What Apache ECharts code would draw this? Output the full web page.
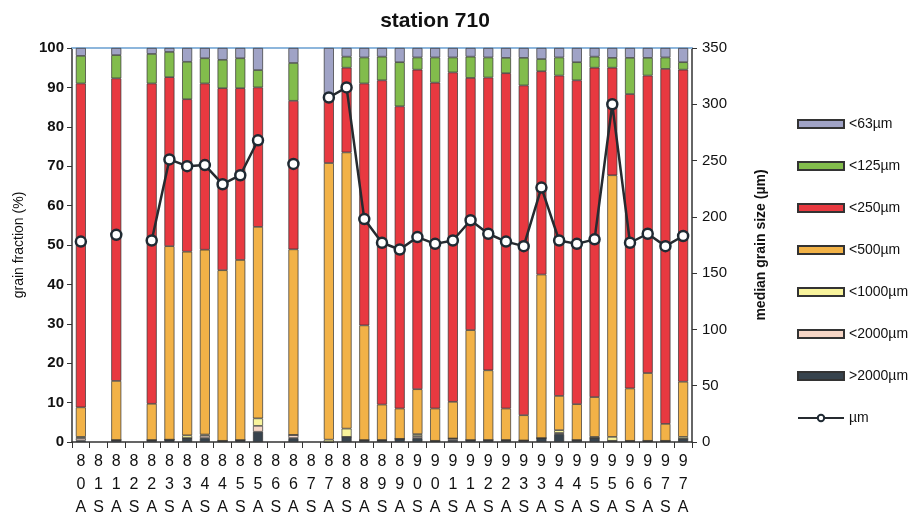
<!DOCTYPE html>
<html>
<head>
<meta charset="utf-8">
<script src="https://cdn.jsdelivr.net/npm/echarts@6/dist/echarts.min.js"></script>
<style>
  html, body { margin: 0; padding: 0; background: #fff; }
  #chart { width: 911px; height: 519px; }
</style>
</head>
<body>
<div id="chart"></div>
<script>
// sampling campaigns (year + S/A)
const categories = ['80A', '81S', '81A', '82S', '82A', '83S', '83A', '84S', '84A', '85S', '85A',
  '86S', '86A', '87S', '87A', '88S', '88A', '89S', '89A', '90S', '90A', '91S', '91A',
  '92S', '92A', '93S', '93A', '94S', '94A', '95S', '95A', '96S', '96A', '97S', '97A'];

// grain fractions in %, bottom of the stack first
const gt2000 = [0.4, null, 0.5, null, 0.5, 0.6, 1.0, 1.0, 0.3, 0.5, 2.6, null, 1.0, null, 0, 1.3, 0.5, 0.5, 0.8, 1.0, 0.3, 0.5, 0.5, 0.5, 0.5, 0.4, 1.0, 2.0, 0.5, 1.0, 0.3, 0.3, 0.3, 0.3, 0.8];
const lt2000 = [0.6, null, 0, null, 0, 0, 0, 0.6, 0, 0, 1.5, null, 0.8, null, 0, 0, 0, 0, 0, 0.5, 0, 0.4, 0, 0, 0, 0, 0, 0.3, 0, 0, 0, 0, 0, 0, 0];
const lt1000 = [0.3, null, 0, null, 0, 0, 0.7, 0.3, 0, 0, 1.9, null, 0, null, 0.6, 2.1, 0, 0, 0, 0.5, 0, 0, 0, 0, 0, 0, 0, 0.7, 0, 0.3, 1.0, 0, 0, 0, 0.5];
const lt500 = [7.5, null, 15.0, null, 9.2, 49.1, 46.6, 46.9, 43.3, 45.7, 48.6, null, 47.1, null, 70.2, 70.1, 29.1, 9.0, 7.7, 11.4, 8.2, 9.3, 27.9, 17.7, 8.0, 6.4, 41.5, 8.7, 9.1, 10.1, 66.4, 13.3, 17.2, 4.3, 14.0];
const lt250 = [82.2, null, 76.8, null, 81.3, 42.9, 38.7, 42.2, 46.2, 43.6, 35.4, null, 37.7, null, 16.2, 21.5, 61.4, 82.3, 76.7, 81.1, 82.7, 83.6, 64.0, 74.3, 85.1, 83.7, 51.6, 81.3, 82.2, 83.6, 27.3, 74.7, 75.5, 90.1, 79.2];
const lt125 = [7.0, null, 5.9, null, 7.5, 6.4, 9.5, 6.4, 7.2, 7.6, 4.4, null, 9.6, null, 0.5, 2.8, 6.6, 6.0, 11.2, 3.1, 6.4, 3.8, 5.4, 5.1, 3.9, 7.0, 3.1, 4.6, 4.6, 2.8, 2.5, 9.2, 4.5, 2.9, 1.9];
const lt63 = [2.0, null, 1.8, null, 1.5, 1.0, 3.5, 2.6, 3.0, 2.6, 5.6, null, 3.8, null, 12.5, 2.2, 2.4, 2.2, 3.6, 2.4, 2.4, 2.4, 2.2, 2.4, 2.5, 2.5, 2.8, 2.4, 3.6, 2.2, 2.5, 2.5, 2.5, 2.4, 3.6];

// median grain size in µm (right axis)
const median = [178, null, 184, null, 179, 251, 245, 246, 229, 237, 268, null, 247, null, 306, 315, 198, 177, 171, 182, 176, 179, 197, 185, 178, 174, 226, 179, 176, 180, 300, 177, 185, 174, 183];

const fractionTicks = [0, 100, 10];
const medianTicks = [0, 350, 50];

const fractions = [
  { name: '>2000µm', data: gt2000, color: '#37434d' },
  { name: '<2000µm', data: lt2000, color: '#f6d6c6' },
  { name: '<1000µm', data: lt1000, color: '#f8f39c' },
  { name: '<500µm', data: lt500, color: '#f2b247' },
  { name: '<250µm', data: lt250, color: '#e83940' },
  { name: '<125µm', data: lt125, color: '#82bc4c' },
  { name: '<63µm', data: lt63, color: '#a0a3c6' }
];

const font = 'Liberation Sans, Arial, sans-serif';
const chart = echarts.init(document.getElementById('chart'));

const barSeries = fractions.map(f => ({
  name: f.name,
  type: 'bar',
  stack: 'fraction',
  data: f.data,
  barWidth: 10,
  itemStyle: { color: f.color, borderColor: '#333', borderWidth: 0.7 },
  emphasis: { disabled: true }
}));

const legendNames = ['<63µm', '<125µm', '<250µm', '<500µm', '<1000µm', '<2000µm', '>2000µm'];

chart.setOption({
  animation: false,
  textStyle: { fontFamily: font },
  title: {
    text: 'station 710',
    left: 430,
    textAlign: 'center',
    top: 6,
    textStyle: { fontSize: 21, fontWeight: 'bold', color: '#111', fontFamily: font }
  },
  legend: {
    orient: 'vertical',
    left: 792,
    top: 112,
    itemWidth: 46,
    itemHeight: 8,
    itemGap: 28,
    textStyle: { fontSize: 14, color: '#111', fontFamily: font },
    data: legendNames.map(n => ({ name: n, icon: 'rect' })).concat([{ name: 'µm' }])
  },
  grid: { left: 72, right: 219, top: 48, bottom: 77 },
  xAxis: [{
    type: 'category',
    data: categories,
    axisLine: { lineStyle: { color: '#333', width: 1.5 } },
    axisTick: { show: true, length: 6, lineStyle: { color: '#333' } },
    axisLabel: {
      interval: 0,
      color: '#111',
      fontSize: 16,
      lineHeight: 23,
      margin: 8,
      formatter: v => v.split('').join('\n')
    }
  }, {
    type: 'category',
    data: categories,
    position: 'top',
    axisLine: { onZero: false, lineStyle: { color: '#8db6dc', width: 2 } },
    axisTick: { show: false },
    axisLabel: { show: false }
  }],
  yAxis: [{
    type: 'value',
    min: fractionTicks[0],
    max: fractionTicks[1],
    interval: fractionTicks[2],
    name: 'grain fraction (%)',
    nameLocation: 'middle',
    nameRotate: 90,
    nameGap: 46,
    nameTextStyle: { fontSize: 14, color: '#111', fontFamily: font },
    axisLine: { show: true, lineStyle: { color: '#333', width: 1.5 } },
    axisTick: { show: true, length: 5, lineStyle: { color: '#333' } },
    axisLabel: { fontSize: 15, fontWeight: 'bold', color: '#111', margin: 8 },
    splitLine: { show: false }
  }, {
    type: 'value',
    position: 'right',
    min: medianTicks[0],
    max: medianTicks[1],
    interval: medianTicks[2],
    name: 'median grain size (µm)',
    nameLocation: 'middle',
    nameRotate: 90,
    nameGap: 62,
    nameTextStyle: { fontSize: 14, fontWeight: 'bold', color: '#111', fontFamily: font },
    axisLine: { show: true, lineStyle: { color: '#333', width: 1.5 } },
    axisTick: { show: true, length: 5, lineStyle: { color: '#333' } },
    axisLabel: { fontSize: 15, color: '#111', margin: 10 },
    splitLine: { show: false }
  }],
  series: barSeries.concat([{
    name: 'µm',
    type: 'line',
    yAxisIndex: 1,
    data: median,
    connectNulls: false,
    symbol: 'circle',
    symbolSize: 10,
    lineStyle: { color: '#262b30', width: 2.5 },
    itemStyle: { color: '#fff', borderColor: '#1f2a33', borderWidth: 2.5 },
    emphasis: { disabled: true },
    z: 5
  }])
});
</script>
</body>
</html>
